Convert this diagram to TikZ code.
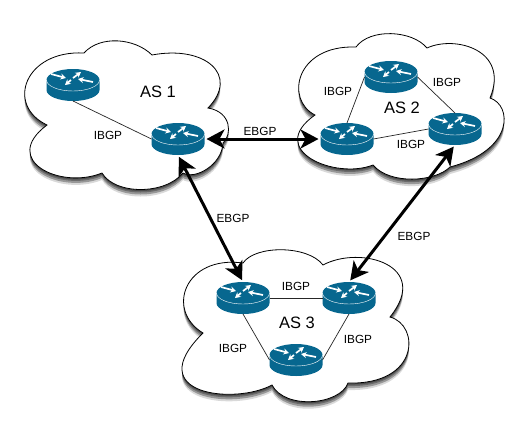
\documentclass[tikz,border=0pt]{standalone}
\usepackage{fontspec}
\setmainfont{Liberation Sans}
\usetikzlibrary{arrows.meta, shadows, shapes.geometric}
\definecolor{routerblue}{HTML}{07678F}
\tikzset{
    routerbody/.style={shape=ellipse, minimum width=53pt, minimum height=32pt, inner sep=0pt, outer sep=0pt},
    cloudbody/.style={draw=black, line width=0.8pt, fill=white,
        general shadow={shadow yshift=-1.5pt, opacity=.3, fill=black},
        general shadow={shadow yshift=-3pt, opacity=.3, fill=black},
        general shadow={shadow yshift=-5pt, opacity=.3, fill=black},
        general shadow={shadow yshift=-7pt, opacity=.15, fill=black}},
    ibgp/.style={line width=0.7pt, draw=black!85},
    ebgp/.style={line width=3pt, {Stealth[length=18pt,width=19pt,inset=5pt]}-{Stealth[length=18pt,width=19pt,inset=5pt]}, shorten <=2pt, shorten >=2pt},
    linklabel/.style={font=\fontsize{11.8}{14}\selectfont, text=black},
    aslabel/.style={font=\fontsize{16.5}{19}\selectfont, text=black}
}
% one router: a named node for the links, the drawing on top of it
\newcommand{\router}[2]{
    \node[routerbody] (#1) at (#2) {};
    \begin{scope}[shift={(#2)}]
        \fill[routerblue] (-26.5,-5) -- (-26.5,5) arc[start angle=180, end angle=0, x radius=26.5, y radius=11] -- (26.5,-5) arc[start angle=0, end angle=-180, x radius=26.5, y radius=11] -- cycle;
        \draw[white, line width=0.4pt] (-26.5,-5) arc[start angle=180, end angle=0, x radius=26.5, y radius=11];
        \foreach \tailx/\taily/\tipx/\tipy in {-22/-11/-7/-7, 20/-3/5/-6, 0/-7/8/-13, -2/-5/-8/0}
            \draw[white, line width=1.7pt, -{Stealth[length=5.5pt,width=6pt]}] (\tailx,\taily) -- (\tipx,\tipy);
    \end{scope}
}
\begin{document}
\begin{tikzpicture}[x=1pt, y=-1pt, >=Stealth]
    \useasboundingbox (0,0) rectangle (524,440);
    % clouds
    \path[cloudbody] (84,53) .. controls (100,35) and (135,38) .. (152,55)
        .. controls (205,45) and (240,75) .. (208,108)
        .. controls (232,112) and (232,135) .. (223,143)
        .. controls (222,165) and (195,180) .. (183,173)
        .. controls (165,195) and (115,195) .. (102,173)
        .. controls (60,190) and (0,160) .. (47,125)
        .. controls (5,105) and (25,50) .. (84,53) -- cycle;
    \path[cloudbody] (356,47) .. controls (370,28) and (412,30) .. (427,48)
        .. controls (455,35) and (510,50) .. (490,98)
        .. controls (512,105) and (515,150) .. (450,167)
        .. controls (435,182) and (390,185) .. (373,165)
        .. controls (335,180) and (265,150) .. (315,115)
        .. controls (285,100) and (295,45) .. (356,47) -- cycle;
    \path[cloudbody] (243,263) .. controls (255,245) and (308,245) .. (323,265)
        .. controls (360,245) and (432,265) .. (390,317)
        .. controls (420,325) and (420,385) .. (348,383)
        .. controls (340,405) and (285,410) .. (272,385)
        .. controls (235,405) and (140,395) .. (203,333)
        .. controls (165,310) and (185,255) .. (243,263) -- cycle;
    % routers
    \router{asoneleft}{73,85}
    \router{asoneright}{178,139}
    \router{astwotop}{391,77}
    \router{astwoleft}{347,139}
    \router{astworight}{455,129}
    \router{asthreeleft}{243,298}
    \router{asthreeright}{349,298}
    \router{asthreebottom}{296,360}
    % links inside the clouds
    \draw[ibgp] (asoneleft.south) -- (asoneright.west);
    \draw[ibgp] (astwoleft.north) -- (astwotop.west);
    \draw[ibgp] (astwotop.east) -- (astworight.north);
    \draw[ibgp] (astwoleft.east) -- (astworight.west);
    \draw[ibgp] (asthreeleft.east) -- (asthreeright.west);
    \draw[ibgp] (asthreeleft.south) -- (asthreebottom.west);
    \draw[ibgp] (asthreeright.south) -- (asthreebottom.east);
    % links between the clouds
    \draw[ebgp] (asoneright.east) -- (astwoleft.west);
    \draw[ebgp] (asoneright.south) -- (asthreeleft.north);
    \draw[ebgp] (astworight.south) -- (asthreeright.north);
    % labels
    \node[aslabel] (asonetext) at (158,92) {AS 1};
    \node[aslabel] (astwotext) at (402,108) {AS 2};
    \node[aslabel] (asthreetext) at (297,323) {AS 3};
    \node[linklabel] (ebgpone) at (260,131) {EBGP};
    \node[linklabel] (ebgptwo) at (233,218) {EBGP};
    \node[linklabel] (ebgpthree) at (414,236) {EBGP};
    \node[linklabel] (ibgpone) at (108,135) {IBGP};
    \node[linklabel] (ibgptwo) at (338,91) {IBGP};
    \node[linklabel] (ibgpthree) at (447,82) {IBGP};
    \node[linklabel] (ibgpfour) at (411,144) {IBGP};
    \node[linklabel] (ibgpfive) at (296,286) {IBGP};
    \node[linklabel] (ibgpsix) at (233,348) {IBGP};
    \node[linklabel] (ibgpseven) at (358,339) {IBGP};
\end{tikzpicture}
\end{document}
